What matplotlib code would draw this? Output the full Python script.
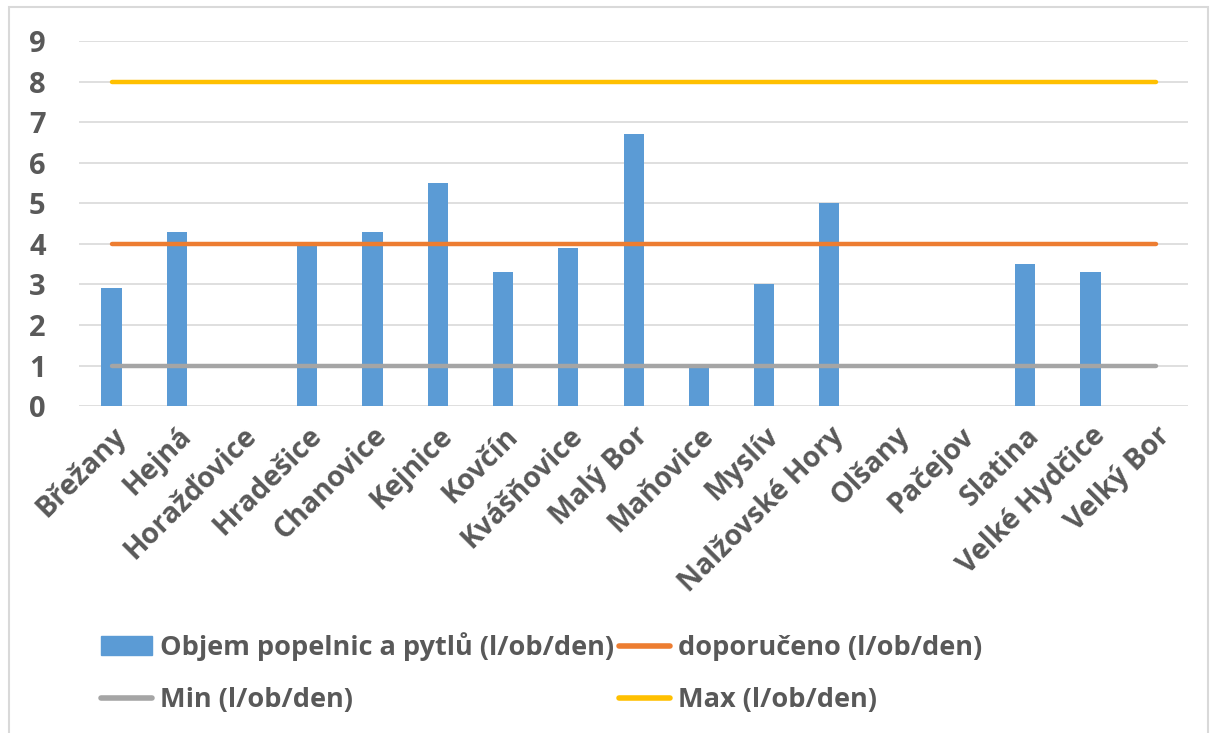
import numpy as np
import matplotlib.pyplot as plt
from matplotlib.patches import Rectangle
from matplotlib.lines import Line2D

plt.rcParams['font.family'] = ['Open Sans', 'DejaVu Sans']

obce = ['Břežany', 'Hejná', 'Horažďovice', 'Hradešice', 'Chanovice', 'Kejnice',
        'Kovčín', 'Kvášňovice', 'Malý Bor', 'Maňovice', 'Myslív', 'Nalžovské Hory',
        'Olšany', 'Pačejov', 'Slatina', 'Velké Hydčice', 'Velký Bor']
objem = [2.9, 4.3, 0, 4.0, 4.3, 5.5, 3.3, 3.9, 6.7, 1.0, 3.0, 5.0, 0, 0, 3.5, 3.3, 0]
doporuceno = [4] * len(obce)
min_val = [1] * len(obce)
max_val = [8] * len(obce)

fig = plt.figure(figsize=(12.15, 7.33), dpi=100)
ax = fig.add_axes([0.065, 0.446, 0.913, 0.498])

x = np.arange(len(obce))
bars = ax.bar(x, objem, width=0.31, color='#5b9bd5', zorder=2)
l_dop, = ax.plot(x, doporuceno, color='#ed7d31', lw=3.2, solid_capstyle='round', zorder=3)
l_min, = ax.plot(x, min_val, color='#a5a5a5', lw=3.2, solid_capstyle='round', zorder=3)
l_max, = ax.plot(x, max_val, color='#ffc000', lw=3.2, solid_capstyle='round', zorder=3)

ax.set_xlim(-0.5, len(obce) - 0.5)
ax.set_ylim(0, 9)
ax.set_yticks(range(10))
ax.grid(axis='y', color='#d9d9d9', lw=1.2, zorder=0)
for s in ax.spines.values():
    s.set_visible(False)
ax.tick_params(length=0)
ax.tick_params(axis='y', labelsize=21, labelcolor='#595959', pad=24)
ax.set_yticklabels([str(i) for i in range(10)], fontweight='bold')
ax.set_xticks(x)
ax.set_xticklabels(obce, rotation=45, ha='right', rotation_mode='anchor',
                   fontsize=20.5, fontweight='bold', color='#595959')
ax.tick_params(axis='x', pad=11)

h_bar = Rectangle((0, 0), 1, 1, color='#5b9bd5')
h_dop = Line2D([], [], color='#ed7d31', lw=4, solid_capstyle='round')
h_min = Line2D([], [], color='#a5a5a5', lw=4, solid_capstyle='round')
h_max = Line2D([], [], color='#ffc000', lw=4, solid_capstyle='round')
leg = fig.legend([h_bar, h_min, h_dop, h_max],
                 ['Objem popelnic a pytlů (l/ob/den)', 'Min (l/ob/den)',
                  'doporučeno (l/ob/den)', 'Max (l/ob/den)'],
                 ncol=2, loc='upper left', bbox_to_anchor=(0.083, 0.137),
                 frameon=False, prop={'size': 19.5, 'weight': 'bold'},
                 handlelength=1.9, handletextpad=0.3, columnspacing=0.15,
                 labelspacing=0.95, borderaxespad=0, borderpad=0)
for t in leg.get_texts():
    t.set_color('#595959')

fig.patches.append(Rectangle((0.007, -0.01), 0.987, 1.0, transform=fig.transFigure,
                             fill=False, edgecolor='#d9d9d9', lw=1.5))

fig.savefig('out.png', dpi=100)
